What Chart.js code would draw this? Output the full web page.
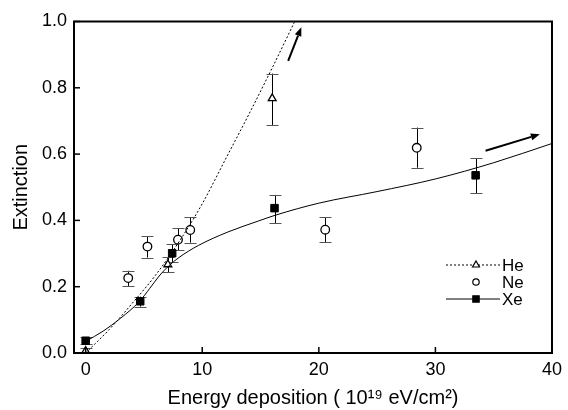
<!DOCTYPE html>
<html><head><meta charset="utf-8">
<script src="https://cdn.jsdelivr.net/npm/chart.js@4.4.1/dist/chart.umd.min.js"></script>
<style>html,body{margin:0;padding:0;background:#fff}canvas{display:block}</style>
</head><body>
<canvas id="c" width="568" height="410"></canvas>
<script>
// ---- data ----
const heX  = [0, 7.05, 16.0];
const heY  = [0.006, 0.267, 0.768];
const heLo = [0.0, 0.243, 0.688];
const heHi = [0.015, 0.290, 0.843];

const neX  = [3.65, 5.3, 7.92, 8.97, 20.55, 28.4];
const neY  = [0.226, 0.321, 0.342, 0.371, 0.372, 0.619];
const neLo = [0.202, 0.288, 0.310, 0.333, 0.335, 0.559];
const neHi = [0.248, 0.353, 0.376, 0.409, 0.409, 0.680];

const xeX  = [0, 4.68, 7.42, 16.2, 33.45];
const xeY  = [0.037, 0.156, 0.301, 0.437, 0.536];
const xeLo = [0.027, 0.140, 0.275, 0.392, 0.482];
const xeHi = [0.047, 0.170, 0.329, 0.477, 0.588];

// fitted curves
const heFitX = [0, 2, 4, 6, 8, 10, 12, 14, 16, 18];
const heFitY = [0.0, 0.07, 0.15, 0.235, 0.335, 0.45, 0.585, 0.72, 0.86, 1.005];
const xeFitX = [0, 1.5, 3, 4.6, 5.5, 6.3, 7.1, 8, 9.7, 12.2, 14.8, 16.3, 20, 25, 30, 35, 40];
const xeFitY = [0.035, 0.066, 0.105, 0.155, 0.195, 0.232, 0.262, 0.288, 0.325, 0.365, 0.398, 0.416, 0.452, 0.487, 0.525, 0.574, 0.632];

// arrows [x0, y0, x1, y1] in data units
const arrowsData = [[17.37, 0.881, 18.5, 0.983], [34.3, 0.61, 38.96, 0.66]];

const xTicks = [0, 10, 20, 30, 40];
const yTicks = [0.0, 0.2, 0.4, 0.6, 0.8, 1.0];
const legendLabels = ['He', 'Ne', 'Xe'];
const xTitle = 'Energy deposition ( 10\u00B9\u2079 eV/cm\u00B2)';
const yTitle = 'Extinction';

const FONT = "'Liberation Sans', Arial, sans-serif";
const pts = (xs, ys) => xs.map((x, i) => ({x: x, y: ys[i]}));

const errorBars = {
  id: 'errorBars',
  beforeDatasetsDraw(chart) {
    const {ctx, chartArea: a, scales: {x, y}} = chart;
    ctx.save();
    ctx.beginPath(); ctx.rect(a.left, a.top, a.right - a.left, a.bottom - a.top); ctx.clip();
    const sets = [[heX, heLo, heHi], [neX, neLo, neHi], [xeX, xeLo, xeHi]];
    ctx.lineWidth = 1;
    for (const [xs, lo, hi] of sets) {
      xs.forEach((v, i) => {
        const px = Math.round(x.getPixelForValue(v)) + 0.5;
        const p1 = y.getPixelForValue(lo[i]), p2 = y.getPixelForValue(hi[i]);
        ctx.strokeStyle = '#000';
        ctx.beginPath(); ctx.moveTo(px, p1); ctx.lineTo(px, p2); ctx.stroke();
        ctx.strokeStyle = '#555';
        for (const p of [p1, p2]) {
          const py = Math.round(p) + 0.5;
          ctx.beginPath(); ctx.moveTo(px - 6, py); ctx.lineTo(px + 6, py); ctx.stroke();
        }
      });
    }
    ctx.restore();
  }
};

const frame = {
  id: 'frame',
  afterDraw(chart) {
    const {ctx, chartArea: a, scales: {x, y}} = chart;
    ctx.save();
    ctx.strokeStyle = '#000';
    ctx.lineWidth = 1.5;
    // inward ticks
    x.ticks.forEach(t => {
      const px = x.getPixelForValue(t.value);
      ctx.beginPath(); ctx.moveTo(px, a.bottom); ctx.lineTo(px, a.bottom - 6); ctx.stroke();
    });
    y.ticks.forEach(t => {
      const py = y.getPixelForValue(t.value);
      ctx.beginPath(); ctx.moveTo(a.left, py); ctx.lineTo(a.left + 6, py); ctx.stroke();
    });
    ctx.lineWidth = 2;
    ctx.strokeRect(a.left, a.top, a.right - a.left, a.bottom - a.top);

    // arrows
    ctx.fillStyle = '#000';
    arrowsData.forEach(([x0, y0, x1, y1]) => {
      const ax = x.getPixelForValue(x0), ay = y.getPixelForValue(y0);
      const bx = x.getPixelForValue(x1), by = y.getPixelForValue(y1);
      const ang = Math.atan2(by - ay, bx - ax);
      const hl = 9, hw = 3.5;
      const cx = bx - hl * Math.cos(ang), cy = by - hl * Math.sin(ang);
      ctx.lineWidth = 2;
      ctx.beginPath(); ctx.moveTo(ax, ay); ctx.lineTo(cx, cy); ctx.stroke();
      ctx.beginPath();
      ctx.moveTo(bx, by);
      ctx.lineTo(cx - hw * Math.sin(ang), cy + hw * Math.cos(ang));
      ctx.lineTo(cx + hw * Math.sin(ang), cy - hw * Math.cos(ang));
      ctx.closePath(); ctx.fill();
    });

    // legend
    const rows = [a.bottom - 88, a.bottom - 71, a.bottom - 54];
    const lx0 = a.right - 106, lx1 = a.right - 52, mx = a.right - 76, tx = a.right - 50;
    ctx.font = '17px ' + FONT;
    ctx.textBaseline = 'middle';
    ctx.textAlign = 'left';
    ctx.lineWidth = 1;
    ctx.setLineDash([2, 2]);
    ctx.beginPath(); ctx.moveTo(lx0, rows[0]); ctx.lineTo(lx1, rows[0]); ctx.stroke();
    ctx.setLineDash([]);
    ctx.beginPath(); ctx.moveTo(lx0, rows[2]); ctx.lineTo(lx1, rows[2]); ctx.stroke();
    const styles = [['triangle', 4], ['circle', 3.2], ['rect', 4.5]];
    const fills = ['#fff', '#fff', '#000'];
    styles.forEach(([st, r], i) => {
      ctx.fillStyle = fills[i]; ctx.strokeStyle = '#000'; ctx.lineWidth = 1.2;
      Chart.helpers.drawPoint(ctx, {pointStyle: st, radius: r, borderWidth: 1.2}, mx, rows[i]);
      ctx.fillStyle = '#000';
      ctx.fillText(legendLabels[i], tx, rows[i] + 1);
    });
    ctx.restore();
  }
};

new Chart(document.getElementById('c'), {
  type: 'scatter',
  data: {
    datasets: [
      {label: 'He fit', data: pts(heFitX, heFitY), showLine: true, pointRadius: 0, borderColor: '#000',
       borderWidth: 1, borderDash: [2, 2], cubicInterpolationMode: 'monotone'},
      {label: 'Xe fit', data: pts(xeFitX, xeFitY), showLine: true, pointRadius: 0, borderColor: '#000',
       borderWidth: 1, cubicInterpolationMode: 'monotone'},
      {label: 'He', data: pts(heX, heY), pointStyle: 'triangle', pointRadius: 4.5, backgroundColor: '#fff',
       borderColor: '#000', borderWidth: 1.3},
      {label: 'Ne', data: pts(neX, neY), pointStyle: 'circle', pointRadius: 4.3, backgroundColor: '#fff',
       borderColor: '#000', borderWidth: 1.3},
      {label: 'Xe', data: pts(xeX, xeY), pointStyle: 'rect', pointRadius: 5.3, backgroundColor: '#000',
       borderColor: '#000', borderWidth: 1}
    ]
  },
  options: {
    responsive: false,
    animation: false,
    devicePixelRatio: 1,
    layout: {padding: {left: 0, top: 21.5, right: 10.3, bottom: 0}},
    plugins: {legend: {display: false}, tooltip: {enabled: false}},
    scales: {
      x: {
        type: 'linear', min: -1, max: 40,
        afterBuildTicks: s => { s.ticks = xTicks.map(v => ({value: v})); },
        afterFit: s => { s.height = 57; },
        grid: {display: false, drawTicks: false},
        border: {display: false},
        ticks: {padding: 6, color: '#000', font: {family: FONT, size: 18}, maxRotation: 0,
                callback: v => String(v)},
        title: {display: true, text: xTitle, color: '#000', font: {family: FONT, size: 20},
                padding: {top: 0, bottom: 0}}
      },
      y: {
        type: 'linear', min: 0, max: 1,
        afterBuildTicks: s => { s.ticks = yTicks.map(v => ({value: v})); },
        afterFit: s => { s.width = 74; },
        grid: {display: false, drawTicks: false},
        border: {display: false},
        ticks: {padding: 7, color: '#000', font: {family: FONT, size: 18},
                callback: v => Number(v).toFixed(1)},
        title: {display: true, text: yTitle, color: '#000', font: {family: FONT, size: 20},
                padding: {top: 9, bottom: 0}}
      }
    }
  },
  plugins: [errorBars, frame]
});
</script>
</body></html>
